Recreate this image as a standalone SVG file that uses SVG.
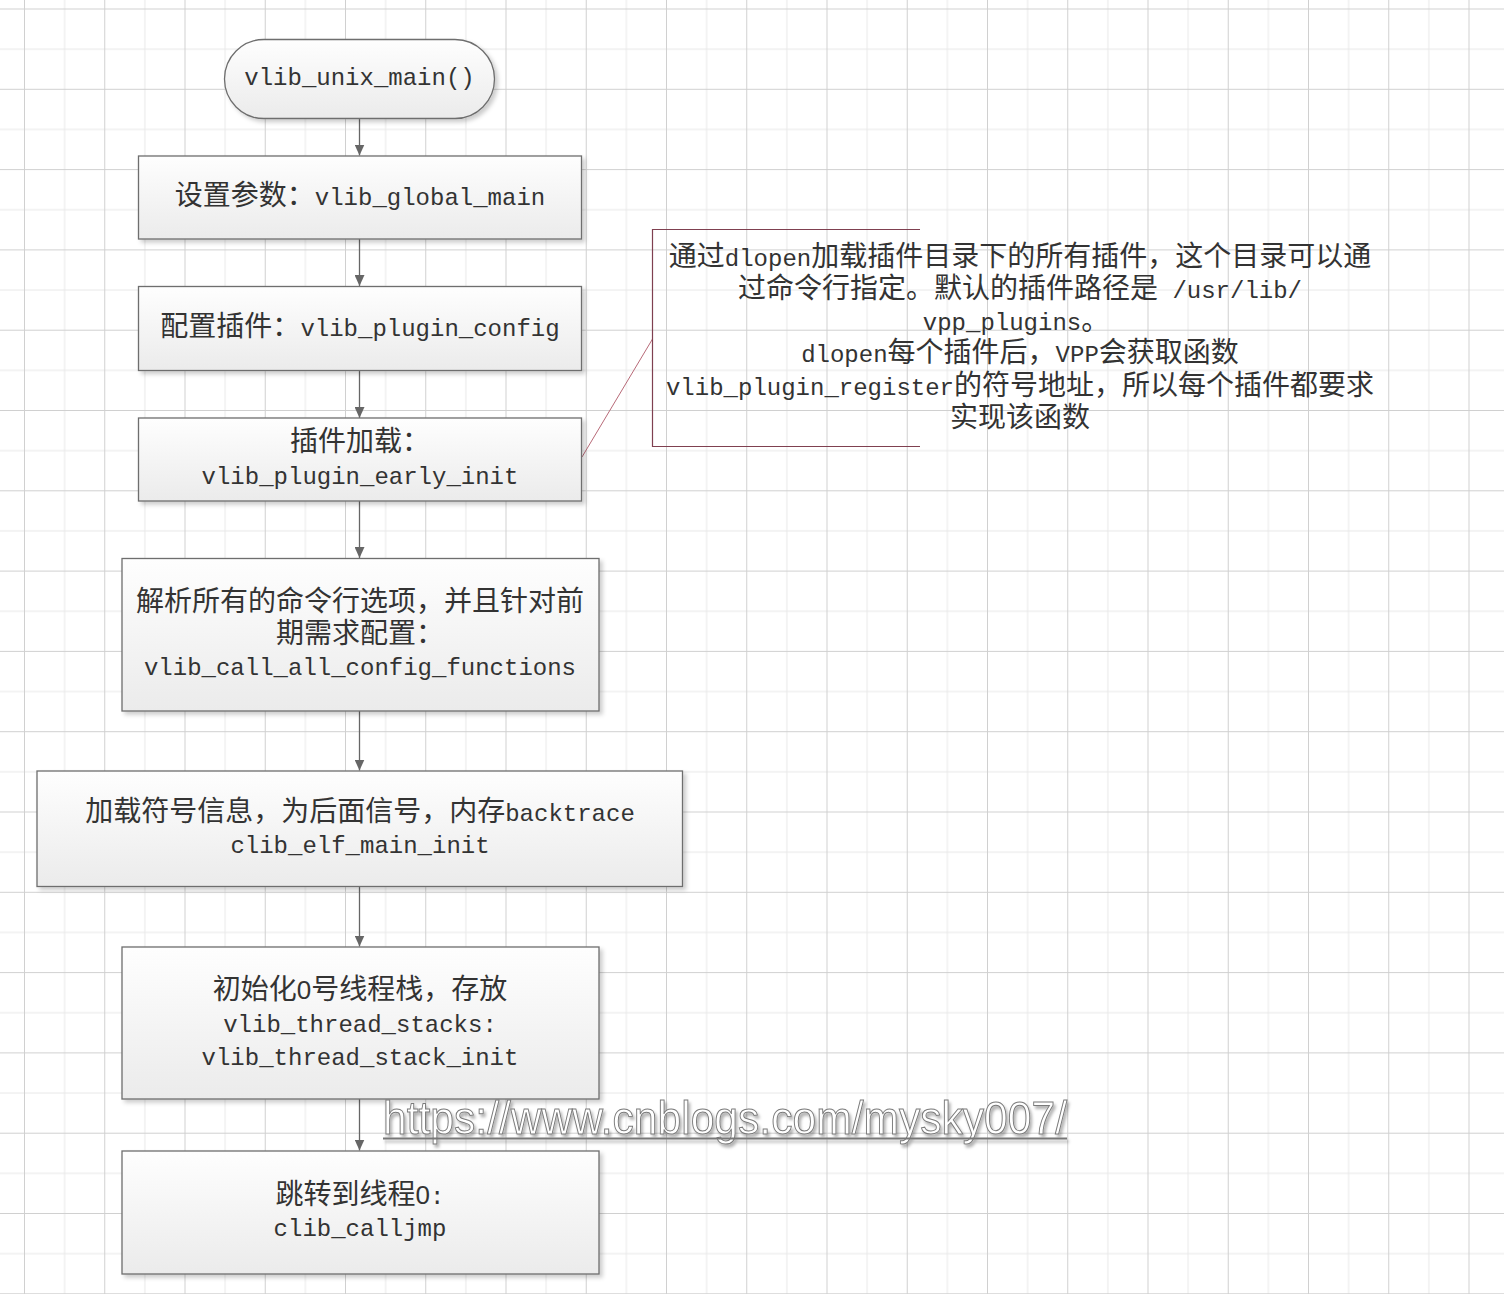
<svg xmlns="http://www.w3.org/2000/svg" width="1504" height="1294" viewBox="0 0 1504 1294">
<defs>
<style>
.t{font-family:"Noto Sans CJK SC","Liberation Mono",sans-serif;font-size:28px;fill:#333;text-anchor:middle}
.l{font-family:"Liberation Mono","Noto Sans CJK SC",monospace;font-size:24px}
.d{font-family:"Liberation Sans","Noto Sans CJK SC",sans-serif;font-size:26px}
.box{fill:url(#g);stroke:#6e6e6e;stroke-width:1.3;filter:url(#sh)}
.conn{stroke:#666;stroke-width:1.3;fill:none;marker-end:url(#arr)}
.note{stroke:#7f4050;stroke-width:1.2;fill:none}
</style>
<linearGradient id="g" x1="0" y1="0" x2="0" y2="1">
<stop offset="0" stop-color="#fefefe"/>
<stop offset="1" stop-color="#ebebeb"/>
</linearGradient>
<filter id="sh" x="-5%" y="-5%" width="115%" height="120%">
<feDropShadow dx="3" dy="3" stdDeviation="2" flood-color="#000" flood-opacity="0.2"/>
</filter>
<filter id="wsh" x="-5%" y="-20%" width="110%" height="150%">
<feDropShadow dx="2" dy="3" stdDeviation="1.5" flood-color="#000" flood-opacity="0.3"/>
</filter>
<marker id="arr" viewBox="0 0 11 10" refX="11" refY="5" markerWidth="11" markerHeight="10" markerUnits="userSpaceOnUse" orient="auto">
<path d="M0,0 L11,5 L0,10 Z" fill="#666"/>
</marker>
<pattern id="grid" x="24" y="8.5" width="80.25" height="80.3" patternUnits="userSpaceOnUse">
<path d="M40.6 0 V80.3 M0 40.65 H80.25" stroke="#e8e8e8" stroke-width="1" fill="none"/>
<path d="M0.5 0 V80.3 M0 0.5 H80.25" stroke="#d0d0d0" stroke-width="1" fill="none"/>
</pattern>
</defs>
<rect width="1504" height="1294" fill="#fff"/>
<rect width="1504" height="1294" fill="url(#grid)"/>

<g id="connectors">
<line class="conn" x1="359.5" y1="118.5" x2="359.5" y2="155.5"/>
<line class="conn" x1="359.5" y1="239" x2="359.5" y2="286"/>
<line class="conn" x1="359.5" y1="370" x2="359.5" y2="418"/>
<line class="conn" x1="359.5" y1="501" x2="359.5" y2="558"/>
<line class="conn" x1="359.5" y1="711" x2="359.5" y2="770.5"/>
<line class="conn" x1="359.5" y1="886.5" x2="359.5" y2="946.5"/>
<line class="conn" x1="359.5" y1="1099" x2="359.5" y2="1150.5"/>
<line x1="582" y1="457" x2="652.5" y2="339" stroke="#b86a78" stroke-width="1"/>
</g>

<g id="start">
<rect class="box" x="224.5" y="39.5" width="270" height="79" rx="39.5" ry="39.5"/>
<text class="t" x="359.5" y="85"><tspan class="l">vlib_unix_main()</tspan></text>
</g>

<g id="n1">
<rect class="box" x="138.5" y="156" width="443" height="83"/>
<text class="t" x="360" y="205">设置参数：<tspan class="l">vlib_global_main</tspan></text>
</g>

<g id="n2">
<rect class="box" x="138.5" y="286.5" width="443" height="84"/>
<text class="t" x="360" y="336">配置插件：<tspan class="l">vlib_plugin_config</tspan></text>
</g>

<g id="n3">
<rect class="box" x="138.5" y="418" width="443" height="83"/>
<text class="t" x="360" y="451">插件加载：</text>
<text class="t" x="360" y="484"><tspan class="l">vlib_plugin_early_init</tspan></text>
</g>

<g id="n4">
<rect class="box" x="122" y="558.5" width="477" height="152.5"/>
<text class="t" x="360" y="611">解析所有的命令行选项，并且针对前</text>
<text class="t" x="360" y="643">期需求配置：</text>
<text class="t" x="360" y="675"><tspan class="l">vlib_call_all_config_functions</tspan></text>
</g>

<g id="n5">
<rect class="box" x="37" y="771" width="645.5" height="115.5"/>
<text class="t" x="360" y="821">加载符号信息，为后面信号，内存<tspan class="l">backtrace</tspan></text>
<text class="t" x="360" y="853"><tspan class="l">clib_elf_main_init</tspan></text>
</g>

<g id="n6">
<rect class="box" x="122" y="947" width="477" height="152"/>
<text class="t" x="360" y="999">初始化<tspan class="d">0</tspan>号线程栈，存放</text>
<text class="t" x="360" y="1032"><tspan class="l">vlib_thread_stacks:</tspan></text>
<text class="t" x="360" y="1065"><tspan class="l">vlib_thread_stack_init</tspan></text>
</g>

<g id="n7">
<rect class="box" x="122" y="1151" width="477" height="123"/>
<text class="t" x="360" y="1204">跳转到线程<tspan class="d">0</tspan><tspan class="l">:</tspan></text>
<text class="t" x="360" y="1236"><tspan class="l">clib_calljmp</tspan></text>
</g>

<g id="note">
<path class="note" d="M920 229.5 H652.5 V446.5 H920"/>
<text class="t" x="1020" y="266">通过<tspan class="l">dlopen</tspan>加载插件目录下的所有插件，这个目录可以通</text>
<text class="t" x="1020" y="298">过命令行指定。默认的插件路径是<tspan class="l"> /usr/lib/</tspan></text>
<text class="t" x="1016" y="330"><tspan class="l">vpp_plugins</tspan>。</text>
<text class="t" x="1020" y="362"><tspan class="l">dlopen</tspan>每个插件后，<tspan class="l">VPP</tspan>会获取函数</text>
<text class="t" x="1020" y="395"><tspan class="l">vlib_plugin_register</tspan>的符号地址，所以每个插件都要求</text>
<text class="t" x="1020" y="427">实现该函数</text>
</g>

<g id="watermark" filter="url(#wsh)">
<text x="383" y="1134" font-family="'Liberation Sans',Arial,sans-serif" font-size="46" fill="#fff" stroke="#7a7a7a" stroke-width="1" textLength="684" lengthAdjust="spacingAndGlyphs">https://www.cnblogs.com/mysky007/</text>
<line x1="383" y1="1138.5" x2="1067" y2="1138.5" stroke="#777" stroke-width="2"/>
</g>
</svg>
